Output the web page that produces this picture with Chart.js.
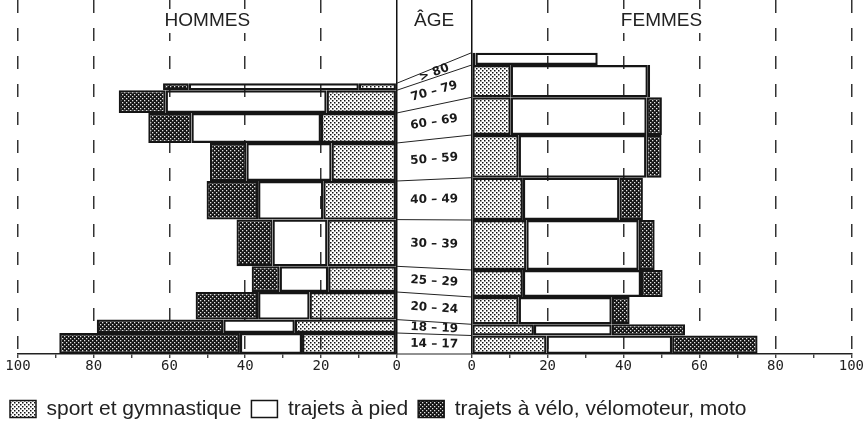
<!DOCTYPE html>
<html>
<head>
<meta charset="utf-8">
<script src="https://cdn.jsdelivr.net/npm/chart.js@4.4.0/dist/chart.umd.min.js"></script>
<style>
  body { margin: 0; background: #fff; }
</style>
</head>
<body>
<canvas id="myChart" width="864" height="434"></canvas>
<script>
const ages = ['14 – 17', '18 – 19', '20 – 24', '25 – 29', '30 – 39', '40 – 49', '50 – 59', '60 – 69', '70 – 79', '> 80'];

// épaisseur de chaque tranche d'âge (effectif relatif)
const hommesEffectif = [21, 13.4, 27.6, 25.7, 46.7, 38.6, 38, 30, 22.7, 7];
const femmesEffectif = [18.5, 11.2, 27.3, 27, 50, 42.3, 42.7, 37.7, 32.3, 12.3];

const hommesSport = [25, 26.9, 23, 18.1, 18.3, 19.4, 17.2, 20, 18.5, 10];
const hommesPied = [16.4, 18.9, 13.6, 12.8, 14.5, 17.2, 22.5, 34.2, 42.5, 44.9];
const hommesVelo = [47.7, 33.4, 16.5, 7.4, 9.5, 13.6, 9.6, 11.4, 12.4, 6.8];

const femmesSport = [19.7, 16.4, 12.4, 13.5, 14.4, 13.5, 12.4, 10.3, 10.3, 1];
const femmesPied = [33.1, 20.5, 24.5, 31.1, 29.6, 25.4, 33.6, 35.8, 36.1, 32.2];
const femmesVelo = [22.5, 19.3, 4.7, 5.7, 4.2, 6.2, 4, 4, 0.6, 0];

const legende = ['sport et gymnastique', 'trajets à pied', 'trajets à vélo, vélomoteur, moto'];
const tickLabels = [0, 20, 40, 60, 80, 100];
const yMax = 354;

// barres dont l'épaisseur suit la tranche d'âge
class TrancheController extends Chart.BarController {
  _calculateBarIndexPixels(index, ruler) {
    const yScale = this._cachedMeta.iScale;
    const d = this.getDataset().data[index];
    const haut = yScale.getPixelForValue(d.haut);
    const bas = yScale.getPixelForValue(d.bas);
    return { base: haut, head: bas, center: (haut + bas) / 2, size: bas - haut };
  }
}
TrancheController.id = 'tranche';
TrancheController.defaults = Chart.BarController.defaults;
Chart.register(TrancheController);

const canvas = document.getElementById('myChart');
const ctx0 = canvas.getContext('2d');

function motif(fond, point, taille) {
  const c = document.createElement('canvas');
  c.width = 4;
  c.height = 4;
  const g = c.getContext('2d');
  if (fond) {
    g.fillStyle = fond;
    g.fillRect(0, 0, 4, 4);
  }
  g.fillStyle = point;
  g.fillRect(0, 0, taille, taille);
  g.fillRect(2, 2, taille, taille);
  return ctx0.createPattern(c, 'repeat');
}
const motifSport = motif(null, '#111', 1.5);
const motifVelo = motif('#141414', '#e4e4e4', 1.3);

function tranches(effectif) {
  let bas = 0;
  return effectif.map(e => {
    const t = { bas: bas, haut: bas + e };
    bas += e;
    return t;
  });
}

function barres(tr, sport, pied, velo) {
  const s = [], p = [], v = [];
  tr.forEach((t, i) => {
    const y = (t.bas + t.haut) / 2;
    const a = sport[i], b = a + pied[i], c = b + velo[i];
    s.push({ x: [0, a], y: y, bas: t.bas, haut: t.haut });
    p.push({ x: [a, b], y: y, bas: t.bas, haut: t.haut });
    if (velo[i] > 0) v.push({ x: [b, c], y: y, bas: t.bas, haut: t.haut });
  });
  return [s, p, v];
}

const trH = tranches(hommesEffectif);
const trF = tranches(femmesEffectif);
const bH = barres(trH, hommesSport, hommesPied, hommesVelo);
const bF = barres(trF, femmesSport, femmesPied, femmesVelo);
const fonds = [motifSport, 'rgba(0,0,0,0)', motifVelo];

const datasets = [];
[['xM', bH], ['xF', bF]].forEach(([axe, b]) => {
  for (let k = 0; k < 3; k++) {
    datasets.push({
      label: legende[k],
      data: b[k],
      xAxisID: axe,
      yAxisID: 'y',
      backgroundColor: fonds[k],
      borderColor: '#151515',
      borderWidth: 2.2,
      borderSkipped: false
    });
  }
});

function axeX(reverse, poids) {
  return {
    type: 'linear',
    axis: 'x',
    position: 'bottom',
    stack: 'bas',
    stackWeight: poids,
    reverse: reverse,
    offset: false,
    min: 0,
    max: 100,
    afterFit: s => { s.height = 34.5; },
    ticks: {
      stepSize: 10,
      autoSkip: false,
      maxRotation: 0,
      padding: 0,
      color: '#222',
      font: { family: 'DejaVu Sans Mono', size: 14 },
      callback: v => tickLabels.includes(v) ? v : ''
    },
    grid: {
      offset: false,
      color: c => !c.tick ? '#222' : (c.tick.value === 0 ? '#111' : (c.tick.value % 20 === 0 ? '#333' : 'rgba(0,0,0,0)')),
      lineWidth: 1.5,
      tickColor: '#222',
      tickLength: 4,
      tickWidth: 1.2
    },
    border: {
      color: '#222',
      width: 1.5,
      dash: c => (c.tick && c.tick.value !== 0) ? [13, 15] : []
    }
  };
}

const decor = {
  id: 'decor',
  beforeDatasetsDraw(chart) {
    const ctx = chart.ctx;
    const top = chart.chartArea.top;
    ctx.save();
    ctx.font = '19px "Liberation Sans"';
    ctx.textAlign = 'center';
    ctx.textBaseline = 'middle';
    [['HOMMES', chart.scales.xM], ['ÂGE', chart.scales.xA], ['FEMMES', chart.scales.xF]].forEach(([t, s]) => {
      const cx = (s.left + s.right) / 2;
      const w = ctx.measureText(t).width;
      ctx.fillStyle = '#fff';
      ctx.fillRect(cx - w / 2 - 4, top + 9, w + 8, 24);
      ctx.fillStyle = '#222';
      ctx.fillText(t, cx, top + 21);
    });
    ctx.restore();
  },
  afterDatasetsDraw(chart) {
    const ctx = chart.ctx;
    const xA = chart.scales.xA, y = chart.scales.y;
    ctx.save();
    ctx.strokeStyle = '#222';
    ctx.lineWidth = 1;
    for (let i = 0; i <= ages.length; i++) {
      const vh = i < ages.length ? trH[i].bas : trH[i - 1].haut;
      const vf = i < ages.length ? trF[i].bas : trF[i - 1].haut;
      ctx.beginPath();
      ctx.moveTo(xA.left, y.getPixelForValue(vh));
      ctx.lineTo(xA.right, y.getPixelForValue(vf));
      ctx.stroke();
    }
    ctx.font = 'bold 12px "DejaVu Sans"';
    ctx.fillStyle = '#1a1a1a';
    ctx.textAlign = 'center';
    ctx.textBaseline = 'middle';
    ages.forEach((a, i) => {
      const yh = y.getPixelForValue((trH[i].bas + trH[i].haut) / 2);
      const yf = y.getPixelForValue((trF[i].bas + trF[i].haut) / 2);
      const ang = Math.atan2(yf - yh, xA.right - xA.left);
      ctx.save();
      ctx.translate((xA.left + xA.right) / 2, (yh + yf) / 2);
      ctx.rotate(ang);
      ctx.fillText(a, 0, 0);
      ctx.restore();
    });
    ctx.restore();
  }
};

new Chart(canvas, {
  type: 'tranche',
  data: { datasets: datasets },
  plugins: [decor],
  options: {
    indexAxis: 'y',
    responsive: false,
    animation: false,
    devicePixelRatio: 1,
    events: [],
    layout: { padding: { left: 0, right: 12, top: 0, bottom: 4.5 } },
    scales: {
      y: {
        type: 'linear',
        axis: 'y',
        position: 'left',
        offset: false,
        min: 0,
        max: yMax,
        afterFit: s => { s.width = 18; },
        ticks: { display: false },
        grid: { display: false, offset: false },
        border: { display: false }
      },
      xM: axeX(true, 379),
      xA: {
        type: 'linear',
        axis: 'x',
        position: 'bottom',
        stack: 'bas',
        stackWeight: 75,
        offset: false,
        min: 0,
        max: 1,
        afterFit: s => { s.height = 34.5; },
        ticks: { display: false },
        grid: { display: false },
        border: { display: false }
      },
      xF: axeX(false, 380)
    },
    plugins: {
      tooltip: { enabled: false },
      legend: {
        position: 'bottom',
        align: 'start',
        labels: {
          boxWidth: 26,
          boxHeight: 17,
          padding: 10,
          color: '#222',
          font: { family: 'Liberation Sans', size: 21 },
          filter: item => item.datasetIndex < 3,
          generateLabels: chart => Chart.defaults.plugins.legend.labels.generateLabels(chart).map(it => {
            it.lineWidth = 1.5;
            return it;
          })
        }
      }
    }
  }
});
</script>
</body>
</html>
